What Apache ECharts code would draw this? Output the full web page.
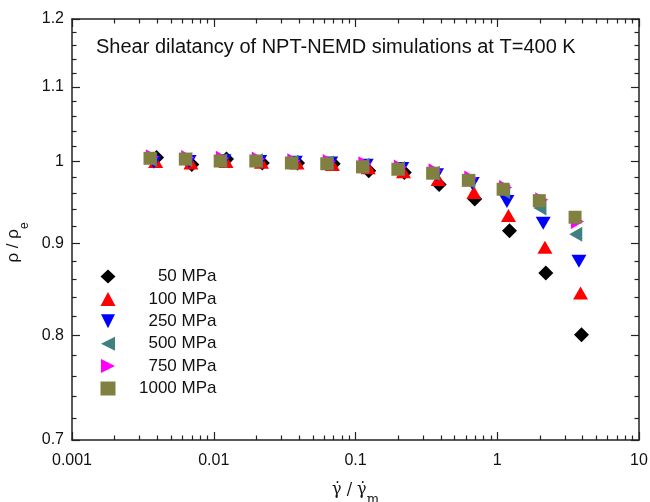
<!DOCTYPE html>
<html><head><meta charset="utf-8">
<script src="https://cdn.jsdelivr.net/npm/echarts@6/dist/echarts.min.js"></script>
<style>html,body{margin:0;padding:0;background:#fff}#c{width:650px;height:502px}</style>
</head><body><div id="c"></div>
<script>
const titleText = 'Shear dilatancy of NPT-NEMD simulations at T=400 K';
const seriesNames = ['50 MPa', '100 MPa', '250 MPa', '500 MPa', '750 MPa', '1000 MPa'];

const x50   = [0.00395, 0.0070, 0.0123, 0.0220, 0.0390, 0.0696, 0.124, 0.221, 0.389, 0.694, 1.22, 2.20, 3.93];
const y50   = [1.005, 0.996, 1.003, 0.998, 0.998, 0.997, 0.988, 0.986, 0.971, 0.953, 0.915, 0.867, 0.801];
const x100  = [0.00389, 0.0069, 0.0122, 0.0217, 0.0387, 0.0687, 0.123, 0.218, 0.383, 0.684, 1.20, 2.17, 3.87];
const y100  = [1.000, 0.998, 1.000, 0.999, 0.998, 0.996, 0.992, 0.987, 0.977, 0.961, 0.933, 0.896, 0.845];
const x250  = [0.00378, 0.0067, 0.0118, 0.0211, 0.0376, 0.0668, 0.119, 0.212, 0.373, 0.666, 1.17, 2.11, 3.77];
const y250  = [0.999, 1.000, 1.001, 1.000, 0.999, 0.998, 0.995, 0.991, 0.983, 0.972, 0.950, 0.924, 0.880];
const x500  = [0.00359, 0.00636, 0.0112, 0.0200, 0.0357, 0.0633, 0.113, 0.201, 0.354, 0.631, 1.11, 2.00, 3.58];
const y500  = [1.002, 1.002, 1.001, 1.001, 0.999, 0.998, 0.995, 0.991, 0.985, 0.975, 0.962, 0.942, 0.911];
const x750  = [0.00369, 0.00655, 0.0115, 0.0206, 0.0367, 0.0652, 0.1165, 0.207, 0.364, 0.650, 1.145, 2.06, 3.68];
const y750  = [1.006, 1.005, 1.004, 1.003, 1.001, 1.000, 0.997, 0.993, 0.988, 0.979, 0.967, 0.952, 0.926];
const x1000 = [0.00355, 0.0063, 0.0111, 0.0198, 0.0353, 0.0627, 0.112, 0.199, 0.350, 0.625, 1.10, 1.98, 3.54];
const y1000 = [1.004, 1.003, 1.0005, 1.0005, 0.998, 0.997, 0.993, 0.990, 0.985, 0.976, 0.965, 0.951, 0.931];

const xMajorTicks = [0.001, 0.01, 0.1, 1, 10];
const xMinorTicks = [0.002, 0.003, 0.004, 0.005, 0.006, 0.007, 0.008, 0.009,
                     0.02, 0.03, 0.04, 0.05, 0.06, 0.07, 0.08, 0.09,
                     0.2, 0.3, 0.4, 0.5, 0.6, 0.7, 0.8, 0.9,
                     2, 3, 4, 5, 6, 7, 8, 9];
const yMajorTicks = [0.7, 0.8, 0.9, 1, 1.1, 1.2];
const yMinorTicks = [0.72, 0.74, 0.76, 0.78, 0.82, 0.84, 0.86, 0.88, 0.92, 0.94, 0.96, 0.98,
                     1.02, 1.04, 1.06, 1.08, 1.12, 1.14, 1.16, 1.18];
const xRange = [0.001, 10];
const yRange = [0.7, 1.2];

const xs = [x50, x100, x250, x500, x750, x1000];
const ys = [y50, y100, y250, y500, y750, y1000];
const colors = ['#000000', '#ff0000', '#0000ff', '#408080', '#ff00ff', '#808040'];
const symbols = ['diamond', 'triangle', 'path://M0,0L2,0L1,2Z', 'path://M2,0L2,2L0,1Z', 'path://M0,0L2,1L0,2Z', 'rect'];
const sizes = [[15, 15], [15, 13], [15, 13], [13, 15], [13, 15], [13, 13]];

const FONT = '"Liberation Sans", Arial, sans-serif';
const SERIF = '"DejaVu Serif", "Liberation Serif", serif';
const LINE = {show: true, onZero: false, lineStyle: {color: '#222', width: 1.5}};
const NOLINE = {show: false, onZero: false};
const TICKCOL = {color: '#222', width: 1.2};

function fmt(v) { return String(+(+v).toFixed(3)); }
const lg = Math.log10;

// main data axes (log scale)
const xMain = {
  type: 'log', logBase: 10, min: xRange[0], max: xRange[1], position: 'bottom',
  axisLine: LINE, axisTick: {show: false}, minorTick: {show: false}, splitLine: {show: false},
  axisLabel: {show: true, customValues: xMajorTicks, formatter: fmt, margin: 13, fontSize: 16, color: '#111', fontFamily: FONT},
  name: '{g|γ̇ / γ̇}{s|m}',
  nameLocation: 'middle', nameGap: 32,
  nameTextStyle: {rich: {
    g: {fontFamily: SERIF, fontSize: 16, color: '#111', lineHeight: 20},
    s: {fontFamily: SERIF, fontSize: 13, color: '#111', lineHeight: 13, padding: [19, 0, 0, 0]}
  }}
};
const yMain = {
  type: 'log', logBase: 10, min: yRange[0], max: yRange[1], position: 'left',
  axisLine: LINE, axisTick: {show: false}, minorTick: {show: false}, splitLine: {show: false},
  axisLabel: {show: true, customValues: yMajorTicks, formatter: fmt, margin: 8, fontSize: 16, color: '#111', fontFamily: FONT},
  name: '{r|ρ / ρ}{e|e}',
  nameLocation: 'middle', nameGap: 36, nameRotate: 90,
  nameTextStyle: {padding: [0, 26, 0, 0], rich: {
    r: {fontFamily: FONT, fontSize: 17, color: '#111', lineHeight: 20},
    e: {fontFamily: FONT, fontSize: 12, color: '#111', lineHeight: 12, padding: [24, 0, 0, 0]}
  }}
};
// tick-only frame axes, on the log10 of the same ranges
function tickAxis(position, range, ticks, len, line) {
  return {
    type: 'value', min: lg(range[0]), max: lg(range[1]), position: position,
    axisLine: line ? LINE : NOLINE,
    axisTick: {show: true, inside: true, length: len, customValues: ticks.map(lg), lineStyle: TICKCOL},
    axisLabel: {show: false}, splitLine: {show: false}, minorTick: {show: false}
  };
}

const chart = echarts.init(document.getElementById('c'), null, {renderer: 'canvas'});
chart.setOption({
  backgroundColor: '#fff',
  animation: false,
  title: {text: titleText, left: 96, top: 37, padding: 0,
          textStyle: {fontFamily: FONT, fontSize: 20, fontWeight: 'normal', color: '#111'}},
  grid: {left: 72, right: 11, top: 19, bottom: 62, containLabel: false, outerBoundsMode: 'none'},
  legend: {
    orient: 'vertical', left: 100.5, top: 268, padding: 0,
    itemWidth: 15, itemHeight: 14, itemGap: 5.4,
    data: seriesNames,
    formatter: n => '{a|' + n + '}',
    textStyle: {rich: {a: {width: 96, align: 'right', fontSize: 17, fontFamily: FONT, color: '#111'}}}
  },
  xAxis: [xMain,
          tickAxis('bottom', xRange, xMajorTicks, 8, false), tickAxis('bottom', xRange, xMinorTicks, 4.5, false),
          tickAxis('top', xRange, xMajorTicks, 8, true), tickAxis('top', xRange, xMinorTicks, 4.5, false)],
  yAxis: [yMain,
          tickAxis('left', yRange, yMajorTicks, 8, false), tickAxis('left', yRange, yMinorTicks, 4.5, false),
          tickAxis('right', yRange, yMajorTicks, 8, true), tickAxis('right', yRange, yMinorTicks, 4.5, false)],
  series: seriesNames.map((n, k) => ({
    name: n, type: 'scatter', xAxisIndex: 0, yAxisIndex: 0,
    symbol: symbols[k], symbolSize: sizes[k],
    itemStyle: {color: colors[k], opacity: 1},
    data: xs[k].map((v, i) => [v, ys[k][i]])
  }))
});
</script></body></html>
